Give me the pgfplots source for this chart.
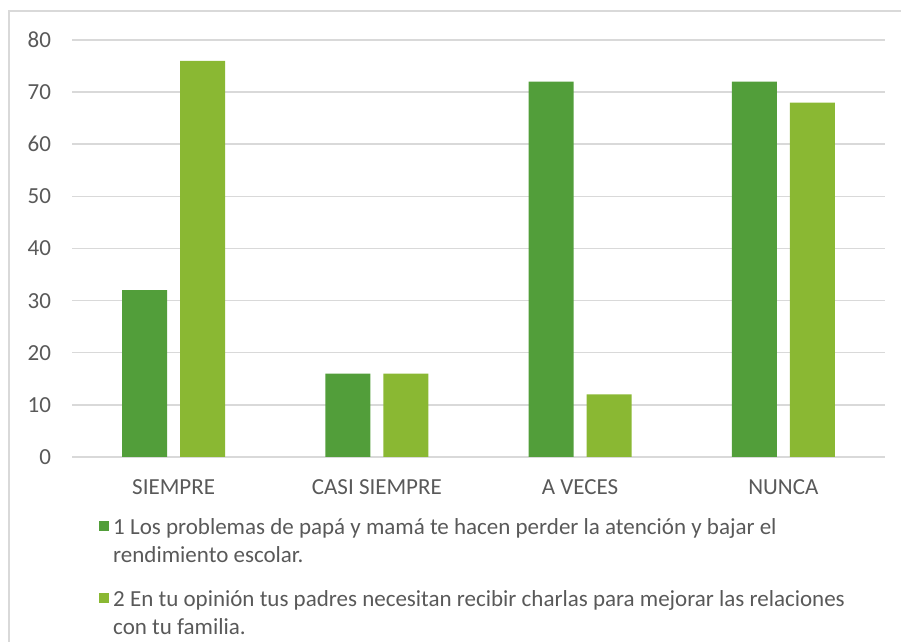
\documentclass[border=0pt]{standalone}
\usepackage{fontspec}
\setmainfont{Carlito}
\usepackage{pgfplots}
\pgfplotsset{compat=1.18}
\definecolor{dg}{HTML}{529E3A}
\definecolor{lg}{HTML}{8AB833}
\definecolor{gridc}{HTML}{D9D9D9}
\definecolor{txt}{HTML}{595959}
\begin{document}
\begin{tikzpicture}[x=0.5pt,y=0.5pt]
\useasboundingbox (0,0) rectangle (901,642);
\draw[gridc, line width=0.7pt] (9,-10) -- (9,631) -- (912,631);
\begin{axis}[at={(36pt,92.5pt)}, anchor=south west, scale only axis,
 width=406.5pt, height=208.5pt,
 xmin=-0.5, xmax=3.5, ymin=0, ymax=80, ytick={0,10,...,80},
 xtick=data, xticklabels={SIEMPRE,CASI SIEMPRE,A VECES,NUNCA},
 axis line style={draw=none}, major tick length=0pt,
 ymajorgrids, grid style={gridc, line width=0.75pt},
 tick label style={font=\fontsize{11.5}{14}\selectfont, text=txt},
 /pgf/number format/assume math mode=true,
 xticklabel style={yshift=-8pt}, yticklabel style={xshift=-7pt},
 ybar, bar width=22.5pt,
 legend cell align=left,
 legend image code/.code={\fill[#1] (0pt,5.5pt) rectangle (5pt,10.5pt);},
 legend style={at={(axis description cs:0.033,-0.137)}, anchor=north west,
   draw=none, fill=none, inner sep=0pt, row sep=8.5pt,
   font=\fontsize{11.5}{14}\selectfont, text=txt,
   nodes={align=left}},
]
\addplot[fill=dg, draw=none, bar shift=-14.5pt] coordinates {(0,32)(1,16)(2,72)(3,72)};
\addplot[fill=lg, draw=none, bar shift=14.5pt] coordinates {(0,76)(1,16)(2,12)(3,68)};
\legend{{1 Los problemas de papá y mamá te hacen perder la atención y bajar el\\rendimiento escolar.},
        {2 En tu opinión tus padres necesitan recibir charlas para mejorar las relaciones\\con tu familia.}}
\end{axis}
\end{tikzpicture}
\end{document}
